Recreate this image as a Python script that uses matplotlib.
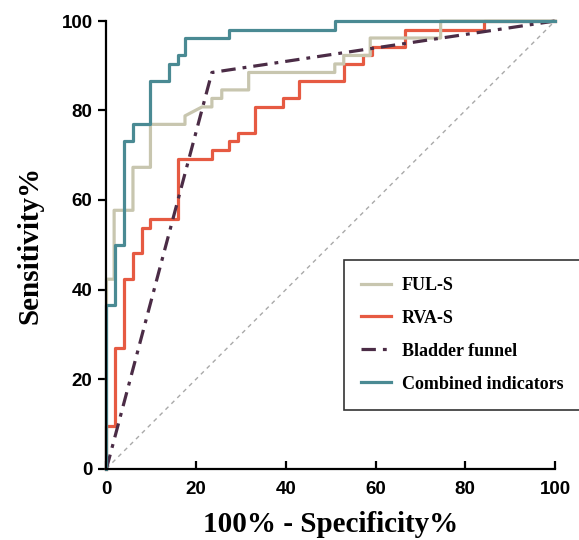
import numpy as np
import matplotlib.pyplot as plt

# ROC points (100% - specificity, sensitivity)
ful_fpr = [0, 0, 1.7, 1.7, 5.9, 5.9, 9.8, 9.8, 17.5, 17.5, 21.3, 23.5, 23.5, 25.7, 25.7,
           31.7, 31.7, 50.9, 50.9, 52.9, 52.9, 58.8, 58.8, 74.5, 74.5, 100]
ful_tpr = [0, 42.3, 42.3, 57.7, 57.7, 67.3, 67.3, 76.9, 76.9, 78.8, 80.8, 80.8, 82.7, 82.7, 84.6,
           84.6, 88.5, 88.5, 90.4, 90.4, 92.3, 92.3, 96.2, 96.2, 100, 100]

rva_fpr = [0, 0, 2.0, 2.0, 3.9, 3.9, 5.9, 5.9, 7.9, 7.9, 9.8, 9.8, 15.9, 15.9, 23.5, 23.5,
           27.3, 27.3, 29.3, 29.3, 33.1, 33.1, 39.3, 39.3, 43.0, 43.0, 52.9, 52.9, 57.1, 57.1,
           59.1, 59.1, 66.5, 66.5, 84.2, 84.2, 100]
rva_tpr = [0, 9.6, 9.6, 26.9, 26.9, 42.3, 42.3, 48.1, 48.1, 53.8, 53.8, 55.8, 55.8, 69.2, 69.2, 71.2,
           71.2, 73.1, 73.1, 75.0, 75.0, 80.8, 80.8, 82.7, 82.7, 86.5, 86.5, 90.4, 90.4, 92.3,
           92.3, 94.2, 94.2, 98.1, 98.1, 100, 100]

funnel_fpr = [0, 23.5, 100]
funnel_tpr = [0, 88.5, 100]

comb_fpr = [0, 0, 2.0, 2.0, 3.9, 3.9, 6.0, 6.0, 9.8, 9.8, 13.9, 13.9, 15.9, 15.9, 17.6, 17.6,
            27.4, 27.4, 50.9, 50.9, 100]
comb_tpr = [0, 36.5, 36.5, 50.0, 50.0, 73.1, 73.1, 76.9, 76.9, 86.5, 86.5, 90.4, 90.4, 92.3, 92.3, 96.2,
            96.2, 98.1, 98.1, 100, 100]

fig = plt.figure(figsize=(5.79, 5.40), dpi=100)
ax = fig.add_axes([106.5/579, 71.5/540, 448.5/579, 447.5/540])

ax.plot([0, 100], [0, 100], color='#a9a9a9', lw=1, ls=(0, (3, 3)), clip_on=False)
l2, = ax.plot(rva_fpr, rva_tpr, color='#e65a42', lw=2.3, label='RVA-S', clip_on=False)
l1, = ax.plot(ful_fpr, ful_tpr, color='#c8c6af', lw=2.3, label='FUL-S', clip_on=False)
l3, = ax.plot(funnel_fpr, funnel_tpr, color='#4b2c46', lw=2.3, ls=(0, (4.5, 2.2, 1.2, 2.2)),
              label='Bladder funnel', clip_on=False)
l4, = ax.plot(comb_fpr, comb_tpr, color='#4a8a93', lw=2.3, label='Combined indicators', clip_on=False)

ax.set_xlim(0, 100)
ax.set_ylim(0, 100)
ax.set_xticks(np.arange(0, 101, 20))
ax.set_yticks(np.arange(0, 101, 20))
for s in ['top', 'right']:
    ax.spines[s].set_visible(False)
for s in ['left', 'bottom']:
    ax.spines[s].set_linewidth(1.6)
ax.tick_params(axis='x', direction='in', length=6, width=1.6, pad=9)
ax.tick_params(axis='y', direction='out', length=6, width=1.6, pad=4)
for lab in ax.get_xticklabels() + ax.get_yticklabels():
    lab.set_fontfamily('Liberation Sans')
    lab.set_fontweight('bold')
    lab.set_fontsize(13.5)

ax.set_xlabel('100% - Specificity%', fontfamily='Liberation Serif', fontweight='bold',
              fontsize=21, labelpad=9)
ax.set_ylabel('Sensitivity%', fontfamily='Liberation Serif', fontweight='bold',
              fontsize=21, labelpad=13)

leg = ax.legend(handles=[l1, l2, l3, l4], loc='upper left', bbox_to_anchor=(0.5295, 0.4665),
                borderaxespad=0, fancybox=False, frameon=True, edgecolor='black',
                prop={'family': 'Liberation Serif', 'weight': 'bold', 'size': 13},
                handlelength=1.66, handletextpad=0.6, borderpad=0.95, labelspacing=0.88)
leg.get_frame().set_linewidth(1.2)

fig.savefig('out.png', dpi=100)
